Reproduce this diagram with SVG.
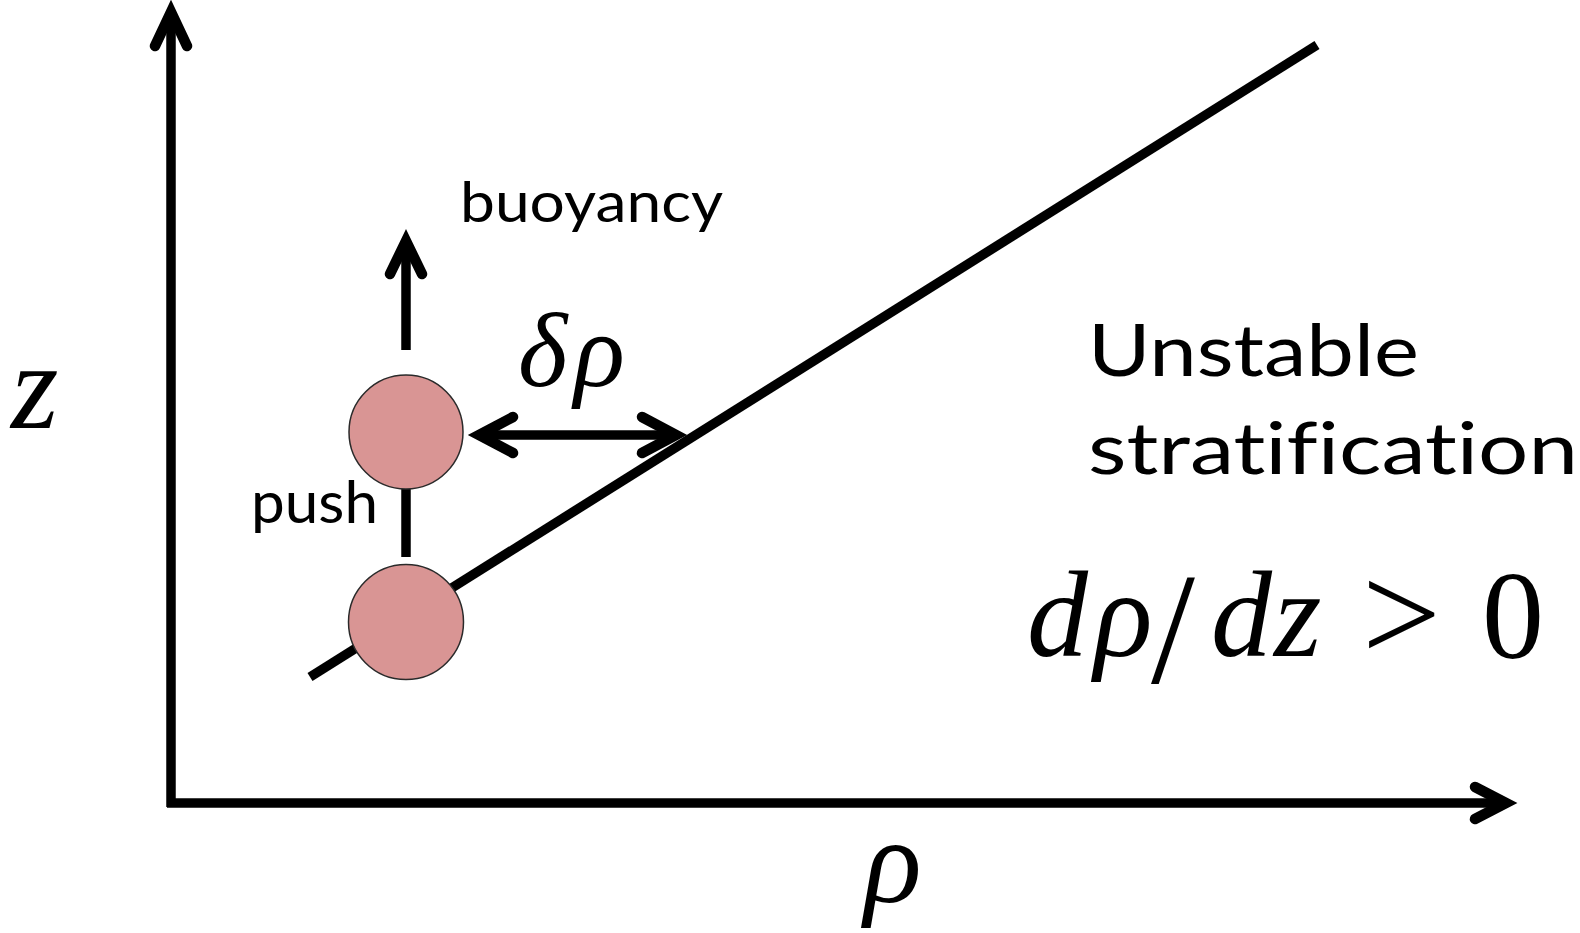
<svg xmlns="http://www.w3.org/2000/svg" width="1580" height="933" viewBox="0 0 1580 933">
  <style>
    .ln { stroke: #000; stroke-width: 9.5; fill: none; }
    .hd { stroke: #000; stroke-width: 10.5; fill: none; stroke-linecap: round; stroke-linejoin: miter; stroke-miterlimit: 6; }
    .ball { fill: #d99594; stroke: #2a2a2a; stroke-width: 1.5; }
    .sans { font-family: Lato, "Open Sans", "Liberation Sans", sans-serif; fill: #000; font-variant-ligatures: none; }
    .math { font-family: "Liberation Serif", "DejaVu Serif", serif; font-style: italic; fill: #000; }
    .mrm { font-family: "Liberation Serif", "DejaVu Serif", serif; fill: #000; }
  </style>
  <rect x="0" y="0" width="1580" height="933" fill="#fff"/>

  <g id="connectors">
    <!-- vertical axis z -->
    <line class="ln" x1="171" y1="807" x2="171" y2="14"/>
    <path class="hd" d="M155,46 L171,12 L187,46"/>
    <!-- horizontal axis rho -->
    <line class="ln" x1="167" y1="803" x2="1503" y2="803"/>
    <path class="hd" d="M1475,787 L1506,803 L1475,819"/>
    <!-- density profile line -->
    <line class="ln" x1="310" y1="677" x2="1317" y2="45"/>
    <!-- buoyancy arrow -->
    <line class="ln" x1="406" y1="350" x2="406" y2="245"/>
    <path class="hd" d="M390,274 L406,241 L422,274"/>
    <!-- push line -->
    <line class="ln" x1="406" y1="489" x2="406" y2="557"/>
    <!-- delta rho double arrow -->
    <line class="ln" x1="483" y1="435" x2="672" y2="435"/>
    <path class="hd" d="M513,417 L479,435 L513,453"/>
    <path class="hd" d="M642,417 L676,435 L642,453"/>
  </g>

  <g id="parcel-upper">
    <circle class="ball" cx="406" cy="432" r="57"/>
  </g>
  <g id="parcel-lower">
    <circle class="ball" cx="406" cy="622" r="57.5"/>
  </g>

  <g id="label-z">
    <text class="math" x="11" y="428" font-size="122">z</text>
  </g>
  <g id="label-rho">
    <text class="math" x="864" y="902" font-size="120">ρ</text>
  </g>
  <g id="label-buoyancy">
    <text class="sans" x="460" y="222" font-size="57" textLength="263" lengthAdjust="spacingAndGlyphs">buoyancy</text>
  </g>
  <g id="label-push">
    <text class="sans" x="251" y="523" font-size="58" textLength="127" lengthAdjust="spacingAndGlyphs">push</text>
  </g>
  <g id="label-drho">
    <text class="math" font-size="106" y="386"><tspan x="518">δ</tspan><tspan x="574">ρ</tspan></text>
  </g>
  <g id="label-title">
    <text class="sans" x="1088" y="376" font-size="72" textLength="331" lengthAdjust="spacingAndGlyphs">Unstable</text>
    <text class="sans" x="1088" y="474" font-size="72" textLength="490" lengthAdjust="spacingAndGlyphs">stratification</text>
  </g>
  <g id="label-formula">
    <text class="math" font-size="122" y="656"><tspan x="1027">d</tspan><tspan x="1094">ρ</tspan></text>
    <text class="mrm" font-size="158" x="1151" y="682">/</text>
    <text class="math" font-size="122" y="656"><tspan x="1211">d</tspan><tspan x="1274">z</tspan></text>
    <text class="mrm" font-size="140" x="1362" y="661">&gt;</text>
    <text class="mrm" font-size="124" x="1482" y="658">0</text>
  </g>
</svg>
